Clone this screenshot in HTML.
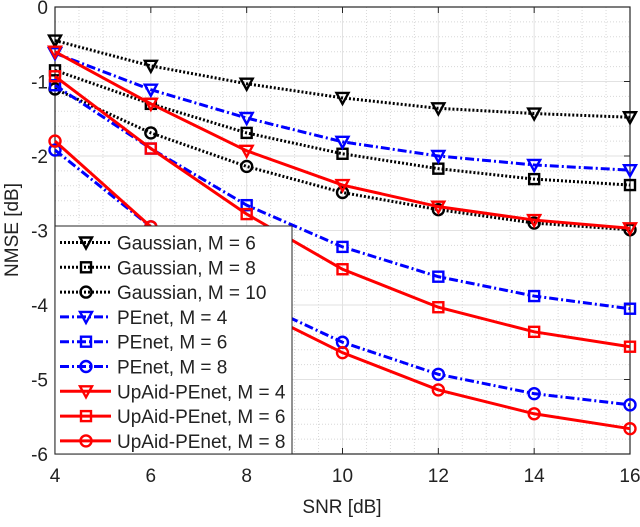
<!DOCTYPE html>
<html><head><meta charset="utf-8"><style>
body{margin:0;background:#fff}
svg text{font-family:"Liberation Sans",sans-serif;fill:#222}
</style></head><body>
<svg id="chart" width="640" height="522" xmlns="http://www.w3.org/2000/svg"></svg>
<script>
const snr=[4,6,8,10,12,14,16];
const xTicks=[4,6,8,10,12,14,16];
const yTicks=[0,-1,-2,-3,-4,-5,-6];
const gaussM6=[-0.45,-0.79,-1.03,-1.22,-1.36,-1.43,-1.48];
const gaussM8=[-0.85,-1.3,-1.69,-1.97,-2.17,-2.31,-2.39];
const gaussM10=[-1.1,-1.69,-2.14,-2.49,-2.72,-2.9,-2.99];
const penetM4=[-0.62,-1.11,-1.49,-1.81,-2.0,-2.12,-2.19];
const penetM6=[-1.05,-1.9,-2.66,-3.22,-3.62,-3.88,-4.05];
const penetM8=[-1.92,-2.95,-3.9,-4.5,-4.93,-5.19,-5.34];
const upaidM4=[-0.6,-1.3,-1.93,-2.39,-2.68,-2.86,-2.97];
const upaidM6=[-0.93,-1.9,-2.78,-3.52,-4.03,-4.36,-4.56];
const upaidM8=[-1.8,-2.95,-4.0,-4.64,-5.14,-5.46,-5.66];
const seriesNames=["Gaussian, M = 6","Gaussian, M = 8","Gaussian, M = 10","PEnet, M = 4","PEnet, M = 6","PEnet, M = 8","UpAid-PEnet, M = 4","UpAid-PEnet, M = 6","UpAid-PEnet, M = 8"];

const L=55,R=630,T=7,B=454;
const xs=v=>L+(v-4)/12*(R-L);
const ys=v=>T+(0-v)/6*(B-T);
const NS="http://www.w3.org/2000/svg";
const svg=document.getElementById('chart');
function mk(tag,attrs,parent){const e=document.createElementNS(NS,tag);for(const k in attrs)e.setAttribute(k,attrs[k]);(parent||svg).appendChild(e);return e;}

const grid=mk('g',{});


for(let v=4.5;v<16;v+=0.5){if(v%2!==0)mk('line',{x1:xs(v),x2:xs(v),y1:T,y2:B,stroke:'#d8d8d8','stroke-dasharray':'1,2'},grid);}
for(let v=-0.2;v>-6;v-=0.2){const r=Math.round(v*10)/10;if(Math.abs(r-Math.round(r))>0.01)mk('line',{x1:L,x2:R,y1:ys(r),y2:ys(r),stroke:'#d8d8d8','stroke-dasharray':'1,2'},grid);}
xTicks.forEach(t=>mk('line',{x1:xs(t),x2:xs(t),y1:T,y2:B,stroke:'#e2e2e2'},grid));
yTicks.forEach(t=>mk('line',{x1:L,x2:R,y1:ys(t),y2:ys(t),stroke:'#e2e2e2'},grid));

const frame=mk('rect',{x:L,y:T,width:R-L,height:B-T,fill:'none',stroke:'#262626','stroke-width':1.2});


xTicks.forEach(t=>{
  mk('line',{x1:xs(t),x2:xs(t),y1:B,y2:B-6,stroke:'#262626'});
  mk('line',{x1:xs(t),x2:xs(t),y1:T,y2:T+6,stroke:'#262626'});
  const tx=mk('text',{x:xs(t),y:B+28,'text-anchor':'middle','font-size':19});tx.textContent=t;
  
  
});
yTicks.forEach(t=>{
  mk('line',{x1:L,x2:L+6,y1:ys(t),y2:ys(t),stroke:'#262626'});
  mk('line',{x1:R,x2:R-6,y1:ys(t),y2:ys(t),stroke:'#262626'});
  const tx=mk('text',{x:L-7,y:ys(t)+7,'text-anchor':'end','font-size':19});tx.textContent=t;
  
  
});
const xl=mk('text',{x:342,y:513,'text-anchor':'middle','font-size':19});xl.textContent='SNR [dB]';


const yl=mk('text',{x:0,y:0,'text-anchor':'middle','font-size':19,transform:'translate(18,230) rotate(-90)'});yl.textContent='NMSE [dB]';



const styles=[
 {d:gaussM6,c:'#000',dash:'2,2',m:'tri'},
 {d:gaussM8,c:'#000',dash:'2,2',m:'sq'},
 {d:gaussM10,c:'#000',dash:'2,2',m:'circ'},
 {d:penetM4,c:'#0000ff',dash:'9,3,2,3',m:'tri'},
 {d:penetM6,c:'#0000ff',dash:'9,3,2,3',m:'sq'},
 {d:penetM8,c:'#0000ff',dash:'9,3,2,3',m:'circ'},
 {d:upaidM4,c:'#ff0000',dash:'',m:'tri'},
 {d:upaidM6,c:'#ff0000',dash:'',m:'sq'},
 {d:upaidM8,c:'#ff0000',dash:'',m:'circ'}];
function marker(g,type,x,y,c){
  if(type==='tri')mk('path',{d:`M${x-6},${y-5}L${x+6},${y-5}L${x},${y+6}Z`,fill:'none',stroke:c,'stroke-width':2.4},g);
  else if(type==='sq')mk('rect',{x:x-5,y:y-5,width:10,height:10,fill:'none',stroke:c,'stroke-width':2.4},g);
  else mk('circle',{cx:x,cy:y,r:5.5,fill:'none',stroke:c,'stroke-width':2.4},g);
}
styles.forEach((s,i)=>{
  const g=mk('g',{});
  
  
  const pts=s.d.map((v,j)=>xs(snr[j])+','+ys(v)).join(' ');
  mk('polyline',{points:pts,fill:'none',stroke:s.c,'stroke-width':3,'stroke-dasharray':s.dash},g);
  s.d.forEach((v,j)=>marker(g,s.m,xs(snr[j]),ys(v),s.c));
});

const lg=mk('g',{});


mk('rect',{x:L,y:226,width:237,height:B-226,fill:'#fff',stroke:'#262626','stroke-width':1},lg);
styles.forEach((s,i)=>{
  const y=242.5+i*24.8;
  const e=mk('g',{},lg);
  
  
  mk('line',{x1:60,x2:111,y1:y,y2:y,stroke:s.c,'stroke-width':3,'stroke-dasharray':s.dash},e);
  marker(e,s.m,86,y,s.c);
  const t=mk('text',{x:117,y:y+7,'font-size':19},e);t.textContent=seriesNames[i];
});
</script>
</body></html>
